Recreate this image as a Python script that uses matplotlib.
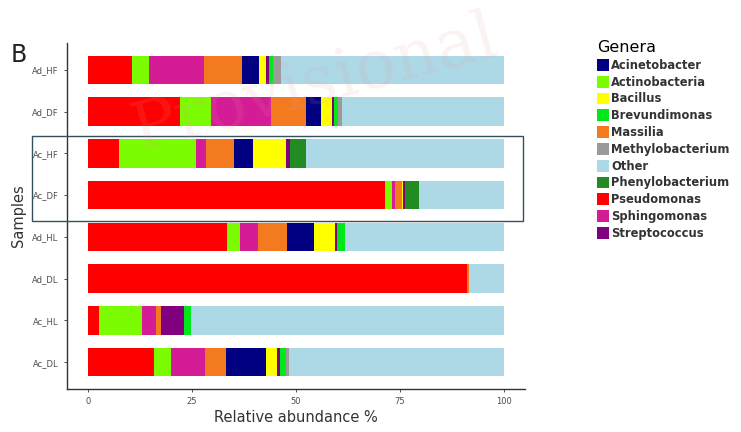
import matplotlib
matplotlib.use("Agg")
import matplotlib.pyplot as plt
import matplotlib.patches as mpatches
import numpy as np

samples = ["Ac_DL", "Ac_HL", "Ad_DL", "Ad_HL", "Ac_DF", "Ac_HF", "Ad_DF", "Ad_HF"]

genera = ["Pseudomonas", "Actinobacteria", "Sphingomonas", "Massilia", "Acinetobacter",
          "Bacillus", "Streptococcus", "Brevundimonas", "Phenylobacterium",
          "Methylobacterium"]

colors = {
    "Acinetobacter": "#000080",
    "Actinobacteria": "#7CFC00",
    "Bacillus": "#FFFF00",
    "Brevundimonas": "#00E81A",
    "Massilia": "#F47A20",
    "Methylobacterium": "#9A9A9A",
    "Other": "#ADD8E6",
    "Phenylobacterium": "#228B22",
    "Pseudomonas": "#FF0000",
    "Sphingomonas": "#D41C96",
    "Streptococcus": "#800080",
}

# values per genus, in order of `samples`
Pseudomonas      = [15.8, 2.8, 91.0, 33.4, 71.4, 7.4, 22.2, 10.7]
Actinobacteria   = [4.1, 10.2, 0.0, 3.2, 1.6, 18.6, 7.4, 3.9]
Sphingomonas     = [8.2, 3.3, 0.0, 4.2, 0.8, 2.4, 14.4, 13.4]
Massilia         = [5.1, 1.3, 0.5, 7.0, 1.6, 6.6, 8.5, 9.1]
Acinetobacter    = [9.5, 0.0, 0.0, 6.6, 0.0, 4.6, 3.5, 4.0]
Bacillus         = [2.8, 0.0, 0.0, 5.0, 0.4, 7.9, 2.6, 1.8]
Streptococcus    = [0.6, 5.4, 0.0, 0.4, 0.4, 1.0, 0.6, 0.5]
Brevundimonas    = [1.6, 1.8, 0.0, 2.0, 0.0, 0.0, 0.8, 1.1]
Phenylobacterium = [0.0, 0.0, 0.0, 0.0, 3.4, 4.0, 0.0, 0.0]
Methylobacterium = [0.6, 0.0, 0.0, 0.0, 0.0, 0.0, 1.0, 2.0]

data = {
    "Pseudomonas": Pseudomonas, "Actinobacteria": Actinobacteria,
    "Sphingomonas": Sphingomonas, "Massilia": Massilia,
    "Acinetobacter": Acinetobacter, "Bacillus": Bacillus,
    "Streptococcus": Streptococcus, "Brevundimonas": Brevundimonas,
    "Phenylobacterium": Phenylobacterium, "Methylobacterium": Methylobacterium,
}

W, H = 741, 432
fig = plt.figure(figsize=(W / 100, H / 100), dpi=100)
ax = fig.add_axes([67 / W, 1 - 389 / H, (525 - 67) / W, (389 - 43) / H])

y = np.arange(len(samples))
left = np.zeros(len(samples))
handles = {}
for g in genera:
    v = np.array(data[g])
    b = ax.barh(y, v, left=left, height=0.68, color=colors[g], linewidth=0)
    handles[g] = b
    left += v
other = 100 - left
handles["Other"] = ax.barh(y, other, left=left, height=0.68, color=colors["Other"], linewidth=0)

ax.set_xlim(-5, 105)
ax.set_ylim(-0.64, 7.64)
ax.set_xticks([0, 25, 50, 75, 100])
ax.set_xticklabels(["0", "25", "50", "75", "100"])
ax.set_yticks(y)
ax.set_yticklabels(samples)
ax.tick_params(axis="both", labelsize=6, colors="#333333", length=2.5, width=0.6)
ax.tick_params(axis="both", labelcolor="#4d4d4d")
for s in ["top", "right"]:
    ax.spines[s].set_visible(False)
for s in ["left", "bottom"]:
    ax.spines[s].set_linewidth(1.0)
    ax.spines[s].set_color("#333333")
ax.set_xlabel("Relative abundance %", fontsize=10.5, color="#333333", labelpad=3)
ax.set_ylabel("Samples", fontsize=10.5, color="#333333", labelpad=4)

# watermark
fig.text(315 / W, 1 - 84 / H, "Provisional", fontsize=48, color="#e49a9a", alpha=0.13,
         rotation=15, ha="center", va="center", family="DejaVu Serif")

# panel letter
fig.text(11 / W, 1 - 55 / H, "B", fontsize=17, color="#222222", ha="left", va="center")

# highlight box
rect = mpatches.Rectangle((32 / W, 1 - 221 / H), (523 - 32) / W, (221 - 136) / H,
                          transform=fig.transFigure, fill=False,
                          edgecolor="#34505e", linewidth=1.0)
fig.patches.append(rect)

legend_order = ["Acinetobacter", "Actinobacteria", "Bacillus", "Brevundimonas",
                "Massilia", "Methylobacterium", "Other", "Phenylobacterium",
                "Pseudomonas", "Sphingomonas", "Streptococcus"]
leg = fig.legend([handles[g] for g in legend_order], legend_order,
                 loc="upper left", bbox_to_anchor=(597 / W, 1 - 40 / H),
                 frameon=False, fontsize=8.3, title="Genera", title_fontsize=11.5,
                 handlelength=1.05, handleheight=1.2, labelspacing=0.33,
                 handletextpad=0.2, borderaxespad=0, borderpad=0)
leg._legend_box.align = "left"
for t in leg.get_texts():
    t.set_fontweight("bold")
    t.set_color("#333333")

fig.savefig("out.png", dpi=100)
